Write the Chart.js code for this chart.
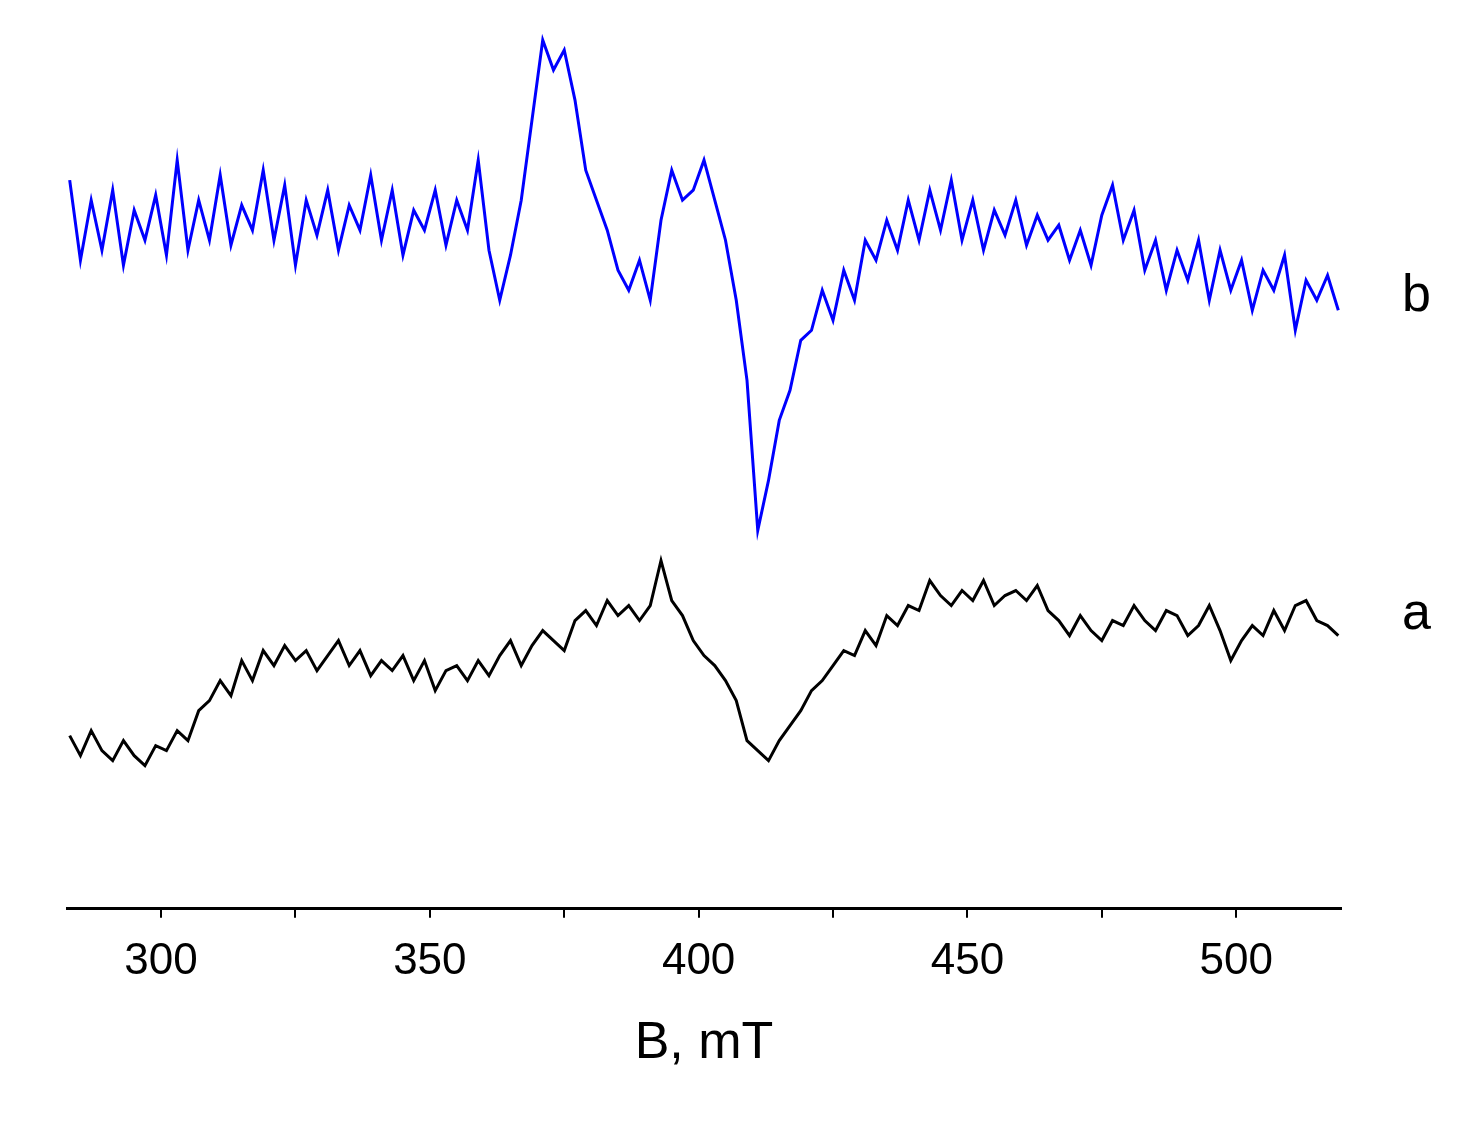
<!DOCTYPE html>
<html><head><meta charset="utf-8">
<script src="https://cdn.jsdelivr.net/npm/chart.js"></script>
<style>html,body{margin:0;background:#fff}#w{width:1471px;height:1127px}</style>
</head><body><div id="w"><canvas id="c"></canvas></div>
<script>
const fieldStart = 283, fieldStep = 2; // B, mT
const seriesB = [820,740,800,750,810,735,790,760,805,745,
840,750,800,760,825,755,795,770,830,760,
815,735,800,765,810,750,795,770,825,760,
810,745,790,770,810,755,800,770,840,750,
700,745,800,880,960,930,950,900,830,800,
770,730,710,740,700,780,830,800,810,840,
800,760,700,620,470,520,580,610,660,670,
710,680,730,700,760,740,780,750,800,760,
810,770,820,760,800,750,790,765,800,755,
785,760,775,740,770,735,785,815,760,790,
730,760,710,750,720,760,700,750,710,740,
690,730,710,745,670,720,700,725,690];
const seriesA = [265,245,270,250,240,260,245,235,255,250,
270,260,290,300,320,305,340,320,350,335,
355,340,350,330,345,360,335,350,325,340,
330,345,320,340,310,330,335,320,340,325,
345,360,335,355,370,360,350,380,390,375,
400,385,395,380,395,440,400,385,360,345,
335,320,300,260,250,240,260,275,290,310,
320,335,350,345,370,355,385,375,395,390,
420,405,395,410,400,420,395,405,410,400,
415,390,380,365,385,370,360,380,375,395,
380,370,390,385,365,375,395,370,340,360,
375,365,390,370,395,400,380,375,365];
const seriesLabels = ['b','a'];
const toPts = arr => arr.map((v,i)=>({x: fieldStart + i*fieldStep, y: v}));

const labelPlugin = {id:'lbl', afterDraw(ch){
  const c=ch.ctx; c.save(); c.fillStyle='#000'; c.font='52px "Liberation Sans", Arial, sans-serif';
  c.textAlign='left'; c.textBaseline='middle';
  c.fillText(seriesLabels[0], 1402, 297); c.fillText(seriesLabels[1], 1402, 615); c.restore();
}};

new Chart(document.getElementById('c'), {
  type:'line',
  data:{datasets:[
    {data:toPts(seriesB), borderColor:'#0000ff', borderWidth:3, pointRadius:0, tension:0},
    {data:toPts(seriesA), borderColor:'#000000', borderWidth:3, pointRadius:0, tension:0}
  ]},
  options:{
    responsive:true, maintainAspectRatio:false, animation:false,
    layout:{padding:{left:67, right:130, top:8, bottom:48}},
    plugins:{legend:{display:false}, tooltip:{enabled:false}},
    scales:{
      x:{type:'linear', min:282.5, max:519.5,
        border:{color:'#000', width:3},
        grid:{display:true, drawOnChartArea:false, drawTicks:true, tickLength:9, color:'#000', lineWidth:2},
        ticks:{stepSize:25, autoSkip:false, color:'#000', padding:18,
          font:{family:'"Liberation Sans", Arial, sans-serif', size:44},
          callback:v=> v%50===0 ? String(v) : ''},
        afterBuildTicks(ax){ ax.ticks = [300,325,350,375,400,425,450,475,500].map(v=>({value:v})); },
        title:{display:true, text:'B, mT', color:'#000', padding:{top:6},
          font:{family:'"Liberation Sans", Arial, sans-serif', size:52}}
      },
      y:{display:false, min:92, max:992}
    }
  },
  plugins:[labelPlugin]
});
</script></body></html>
